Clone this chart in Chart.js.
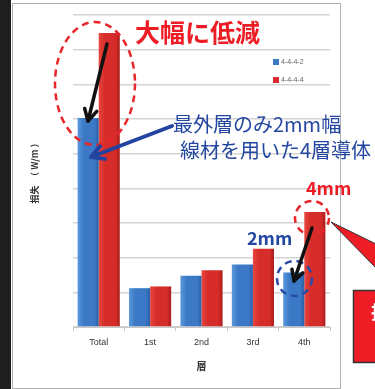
<!DOCTYPE html>
<html><head><meta charset="utf-8">
<script src="https://cdn.jsdelivr.net/npm/chart.js@4.4.1/dist/chart.umd.min.js"></script>
<style>html,body{margin:0;padding:0;background:#fff;}#wrap{width:375px;height:389px;position:relative;}</style>
</head><body><div id="wrap"><canvas id="c" width="375" height="389"></canvas></div>
<script>
const categories = ["Total", "1st", "2nd", "3rd", "4th"];
const series1Label = "4-4-4-2";
const series1 = [6.03, 1.12, 1.48, 1.80, 1.57];
const series2Label = "4-4-4-4";
const series2 = [8.48, 1.17, 1.64, 2.26, 3.32];
const yTitle = "損失　（ W/m ）";
const xTitle = "層";

const BLUE = ["#5a98dc", "#3b79c6", "#2b5fa6"];
const RED = ["#e9473f", "#d62c2a", "#a91d1c"];

const gradientBars = {
  id: "gradientBars",
  beforeDatasetsDraw(chart) {
    const ctx = chart.ctx;
    chart.data.datasets.forEach((ds, i) => {
      const meta = chart.getDatasetMeta(i);
      const cols = i === 0 ? BLUE : RED;
      meta.data.forEach(el => {
        const g = ctx.createLinearGradient(el.x - el.width / 2, 0, el.x + el.width / 2, 0);
        g.addColorStop(0, cols[0]);
        g.addColorStop(0.3, cols[1]);
        g.addColorStop(0.8, cols[1]);
        g.addColorStop(1, cols[2]);
        el.options = Object.assign({}, el.options, { backgroundColor: g });
      });
    });
  }
};

const frame = {
  id: "frame",
  beforeDraw(chart) {
    const ctx = chart.ctx;
    ctx.save();
    ctx.fillStyle = "#fff";
    ctx.fillRect(0, 0, chart.width, chart.height);
    ctx.fillStyle = "#1e1e1e";
    ctx.fillRect(0, 0, 11, chart.height);
    ctx.strokeStyle = "#b0b0b0";
    ctx.lineWidth = 1;
    ctx.strokeRect(12.5, 3.5, 328, 385);
    ctx.restore();
  }
};

const legendBox = {
  id: "legendBox",
  afterDraw(chart) {
    const ctx = chart.ctx;
    ctx.save();
    ctx.font = "7px 'Liberation Sans', Arial, sans-serif";
    ctx.textBaseline = "middle";
    chart.data.datasets.forEach((ds, i) => {
      const y = 62 + i * 18;
      ctx.fillStyle = i === 0 ? BLUE[1] : RED[1];
      ctx.fillRect(273, y - 3, 6, 6);
      ctx.fillStyle = "#666";
      ctx.fillText(ds.label, 281, y);
    });
    ctx.restore();
  }
};

function arrow(ctx, x1, y1, x2, y2, color, w, head) {
  ctx.save();
  ctx.strokeStyle = color; ctx.lineWidth = w; ctx.lineCap = "round"; ctx.lineJoin = "round";
  ctx.beginPath(); ctx.moveTo(x1, y1); ctx.lineTo(x2, y2); ctx.stroke();
  const a = Math.atan2(y2 - y1, x2 - x1);
  ctx.beginPath();
  ctx.moveTo(x2 - head * Math.cos(a - 0.5), y2 - head * Math.sin(a - 0.5));
  ctx.lineTo(x2, y2);
  ctx.lineTo(x2 - head * Math.cos(a + 0.5), y2 - head * Math.sin(a + 0.5));
  ctx.stroke();
  ctx.restore();
}

const notes = {
  id: "notes",
  afterDraw(chart) {
    const ctx = chart.ctx;
    ctx.save();
    ctx.strokeStyle = "#e8262a"; ctx.lineWidth = 2.5; ctx.setLineDash([7, 5]);
    ctx.beginPath(); ctx.ellipse(95, 83.5, 40, 61.5, 0, 0, Math.PI * 2); ctx.stroke();
    ctx.beginPath(); ctx.arc(312, 218, 17, 0, Math.PI * 2); ctx.stroke();
    ctx.strokeStyle = "#2a4aa8";
    ctx.beginPath(); ctx.arc(294.5, 278.5, 17.5, 0, Math.PI * 2); ctx.stroke();
    ctx.setLineDash([]);
    arrow(ctx, 107, 44, 88, 121, "#111", 3.5, 13);
    arrow(ctx, 172, 126, 91, 157, "#2343a0", 4, 14);
    arrow(ctx, 312, 228, 294, 281, "#111", 3.5, 12);
    ctx.fillStyle = "#ee1c25"; ctx.strokeStyle = "#333"; ctx.lineWidth = 1;
    ctx.beginPath(); ctx.moveTo(331, 222); ctx.lineTo(376, 244); ctx.lineTo(376, 268); ctx.closePath();
    ctx.fill(); ctx.stroke();
    ctx.lineWidth = 1.5;
    ctx.fillRect(353, 290, 30, 73); ctx.strokeRect(353.5, 290.5, 30, 72);
    ctx.fillStyle = "#fff"; ctx.font = "bold 18px 'Noto Sans CJK JP'"; ctx.textBaseline = "middle";
    ctx.fillText("接", 371, 312);
    ctx.fillStyle = "#ee1c25"; ctx.font = "bold 25px 'Noto Sans CJK JP'";
    ctx.fillText("大幅に低減", 135, 32);
    ctx.font = "bold 18px 'Noto Sans CJK JP'";
    ctx.fillText("4mm", 306, 188);
    ctx.fillStyle = "#2346a0";
    ctx.fillText("2mm", 247, 238);
    ctx.font = "20px 'Noto Sans CJK JP'";
    ctx.fillText("最外層のみ2mm幅", 173, 124);
    ctx.fillText("線材を用いた4層導体", 180, 150);
    ctx.restore();
  }
};

new Chart(document.getElementById("c"), {
  type: "bar",
  data: {
    labels: categories,
    datasets: [
      { label: series1Label, data: series1, backgroundColor: BLUE[1], borderWidth: 0 },
      { label: series2Label, data: series2, backgroundColor: RED[1], borderWidth: 0 }
    ]
  },
  options: {
    responsive: false,
    animation: false,
    devicePixelRatio: 1,
    layout: { padding: { left: 25.6, right: 45, top: 15, bottom: 17.2 } },
    categoryPercentage: 0.82,
    barPercentage: 1.0,
    plugins: { legend: { display: false }, tooltip: { enabled: false } },
    scales: {
      x: {
        grid: { display: true, drawOnChartArea: false, drawTicks: true, tickLength: 4, color: "#c8c8c8" },
        border: { display: true, color: "#c8c8c8" },
        ticks: { padding: 6, color: "#333", font: { family: "'Liberation Sans', Arial, sans-serif", size: 9 } },
        title: { display: true, text: xTitle, color: "#333", padding: { top: 6, bottom: 0 }, font: { family: "'Noto Sans CJK JP'", size: 10, weight: "bold" } }
      },
      y: {
        min: 0, max: 9,
        ticks: { display: false, stepSize: 1 },
        grid: { color: "#d4d4d4", lineWidth: 1.5, drawTicks: false },
        border: { display: false },
        title: { display: true, text: yTitle, color: "#333", padding: { top: 4, bottom: 32.6 }, font: { family: "'Noto Sans CJK JP'", size: 9, weight: "bold" } }
      }
    }
  },
  plugins: [frame, gradientBars, legendBox, notes]
});
</script></body></html>
